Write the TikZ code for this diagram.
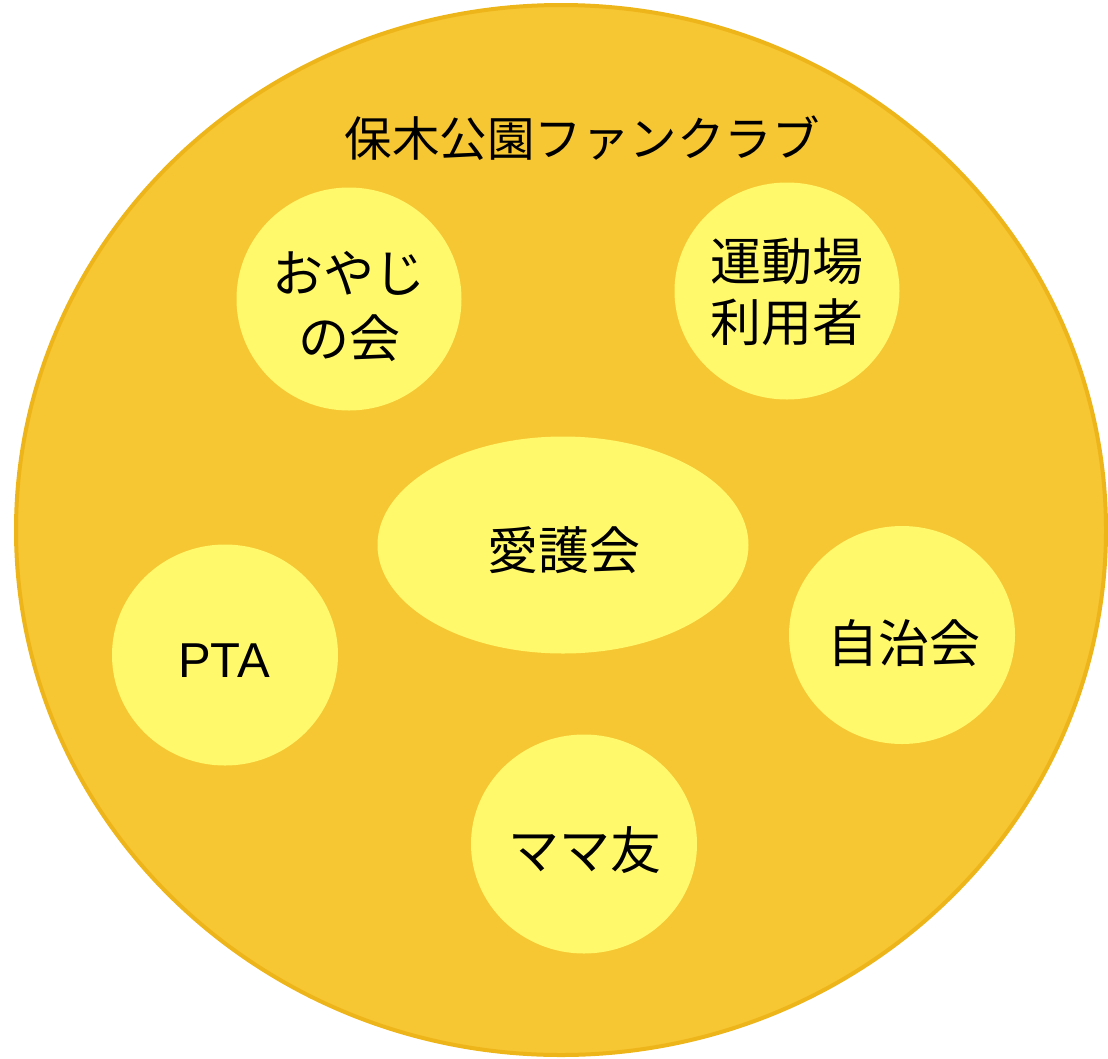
\documentclass[tikz,border=0pt]{standalone}
\usepackage{fontspec}
\setmainfont{Noto Sans CJK JP}
\newfontfamily\latinfont{Liberation Sans}
\usetikzlibrary{shapes.geometric}
\definecolor{outerfill}{HTML}{F7C633}
\definecolor{outerline}{HTML}{EDB51A}
\definecolor{innerfill}{HTML}{FFF96B}
\tikzset{
  bubble/.style={ellipse, fill=innerfill, draw=none, inner sep=0pt},
  label/.style={align=center, font=\fontsize{51}{62}\selectfont},
}
\begin{document}
\begin{tikzpicture}[x=1pt,y=-1pt]
\useasboundingbox (0,0) rectangle (1108,1058);
\node[ellipse, fill=outerfill, draw=outerline, line width=4pt, minimum width=1090pt, minimum height=1050pt, inner sep=0pt] (club) at (561,530) {};
\node[font=\fontsize{47.5}{56}\selectfont] (title) at (582,138) {保木公園ファンクラブ};
\node[bubble, minimum width=225pt, minimum height=223pt] (oyaji) at (349,299) {};
\node[label, font=\fontsize{51}{65}\selectfont] (oyajit) at (349,307) {おやじ\\の会};
\node[bubble, minimum width=225pt, minimum height=217pt] (undo) at (787,291) {};
\node[label, font=\fontsize{51}{61}\selectfont] (undot) at (787,292) {運動場\\利用者};
\node[bubble, minimum width=371pt, minimum height=217pt] (aigo) at (563,545) {};
\node[label] (aigot) at (564,550) {愛護会};
\node[bubble, minimum width=226pt, minimum height=221pt] (pta) at (225,655) {};
\node[font=\latinfont\fontsize{49}{60}\selectfont] (ptat) at (224,661) {PTA};
\node[bubble, minimum width=226pt, minimum height=218pt] (jichi) at (902,635) {};
\node[label] (jichit) at (904,643) {自治会};
\node[bubble, minimum width=226pt, minimum height=219pt] (mama) at (584,844) {};
\node[label] (mamat) at (585,850) {ママ友};
\end{tikzpicture}
\end{document}
